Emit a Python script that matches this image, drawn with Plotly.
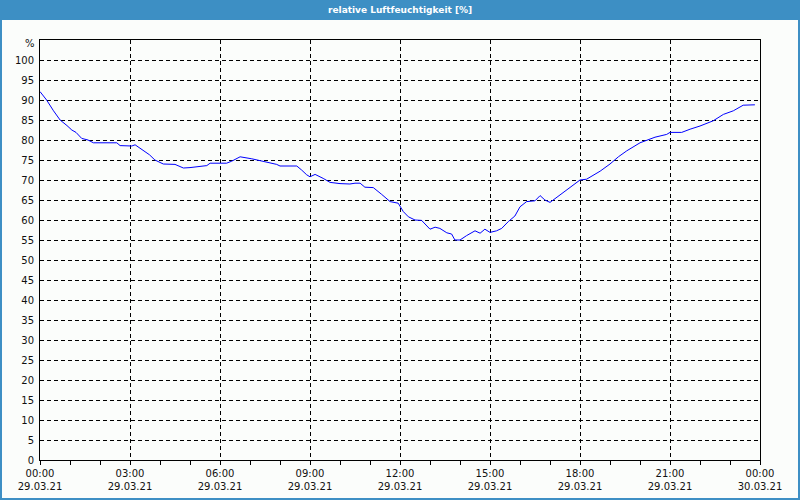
import plotly.graph_objects as go
from datetime import datetime, timedelta

# hours after 29.03.21 00:00 and relative humidity [%]
hours = [0.0, 0.22, 0.45, 0.67, 0.9, 1.06, 1.2, 1.39, 1.6, 1.78, 2.2, 2.56, 2.67, 2.85, 3.06, 3.17,
         3.44, 3.65, 3.83, 4.11, 4.5, 4.78, 5.0, 5.22, 5.56, 5.67, 6.0, 6.22, 6.39, 6.67, 7.06,
         7.44, 7.89, 8.0, 8.3, 8.56, 8.72, 8.89, 9.0, 9.17, 9.44, 9.67, 10.0, 10.33, 10.5,
         10.67, 10.83, 11.11, 11.39, 11.67, 11.94, 12.11, 12.28, 12.5, 12.72, 13.0, 13.17,
         13.33, 13.56, 13.72, 13.83, 14.0, 14.22, 14.5, 14.67, 14.83, 15.0, 15.22, 15.39,
         15.61, 15.83, 16.0, 16.22, 16.5, 16.67, 16.83, 17.0, 17.28, 17.61, 18.0, 18.22,
         18.67, 19.0, 19.28, 19.56, 20.0, 20.5, 20.89, 21.0, 21.39, 21.67, 22.0, 22.44,
         22.78, 23.11, 23.44, 23.83]
humidity = [92.1, 90.0, 87.3, 85.0, 83.6, 82.5, 81.9, 80.4, 80.0, 79.3, 79.3, 79.3, 78.6, 78.5, 78.5, 78.8,
            77.3, 76.3, 75.0, 74.0, 73.9, 73.0, 73.1, 73.3, 73.6, 74.2, 74.2, 74.2, 74.7, 75.8, 75.3,
            74.6, 73.9, 73.5, 73.5, 73.5, 72.5, 71.3, 70.8, 71.4, 70.4, 69.4, 69.1, 69.0, 69.2,
            69.2, 68.2, 68.1, 66.4, 64.6, 64.2, 62.1, 60.8, 60.0, 59.9, 57.7, 58.2,
            57.9, 56.8, 56.5, 55.0, 55.0, 56.1, 57.3, 56.7, 57.7, 56.9, 57.3, 57.9,
            59.6, 61.0, 63.3, 64.6, 64.8, 66.1, 65.0, 64.4, 66.0, 67.9, 70.0, 70.2,
            72.2, 74.0, 75.8, 77.3, 79.3, 80.7, 81.4, 81.9, 81.9, 82.7, 83.5, 84.8,
            86.4, 87.3, 88.7, 88.8]

y_ticks = list(range(0, 101, 5))

start = datetime(2021, 3, 29)
times = [start + timedelta(hours=h) for h in hours]

tick_vals = [start + timedelta(hours=3 * i) for i in range(9)]
time_text = [f"{t:%H:%M}" for t in tick_vals]
date_text = [f"{t:%d.%m.%y}" for t in tick_vals]

FONT = "DejaVu Sans"
BLUE = "#3d8fc4"
BG = "#fbfdfb"
TXT = "#111"

fig = go.Figure()
fig.add_trace(go.Scatter(x=times, y=humidity, mode="lines",
                         line=dict(color="#0000ff", width=1), hoverinfo="skip"))
# invisible helper trace for the second (date) label row
fig.add_trace(go.Scatter(x=[times[0]], y=[humidity[0]], xaxis="x2", mode="lines",
                         line=dict(width=0), hoverinfo="skip", showlegend=False))

fig.update_layout(
    width=800, height=500,
    margin=dict(l=40, r=40, t=40, b=40, autoexpand=False),
    paper_bgcolor=BLUE,
    plot_bgcolor=BG,
    showlegend=False,
    font=dict(family=FONT, size=10, color=TXT),
)

# white content area inside blue frame
fig.add_shape(type="rect", xref="paper", yref="paper",
              x0=-38 / 720, x1=1 + 38 / 720, y0=-38 / 420, y1=1 + 20 / 420,
              fillcolor=BG, line=dict(width=0), layer="below")

fig.add_annotation(text="<b>relative Luftfeuchtigkeit [%]</b>", xref="paper", yref="paper",
                   x=0.5, y=1 + 30 / 420, yanchor="middle", showarrow=False,
                   font=dict(family=FONT, size=9, color="white"))
fig.add_annotation(text="%", xref="paper", yref="paper", x=-3 / 720, y=1 - 4 / 420,
                   xanchor="right", yanchor="middle", showarrow=False,
                   font=dict(family=FONT, size=10, color=TXT))

xr = [start, start + timedelta(hours=24)]
fig.update_layout(
    xaxis=dict(
        type="date", range=xr, automargin=False,
        tickvals=tick_vals, ticktext=time_text, ticklabelstandoff=0,
        showline=True, linecolor="black", linewidth=1, mirror=True,
        ticks="outside", ticklen=4, tickcolor="black",
        showgrid=True, gridcolor="black", griddash="4px,3px", gridwidth=1,
        minor=dict(dtick=3600000, ticks="outside", ticklen=4, tickcolor="black", showgrid=False),
        zeroline=False,
    ),
    xaxis2=dict(
        type="date", range=xr, overlaying="x", side="bottom", anchor="y", automargin=False,
        tickvals=tick_vals, ticktext=date_text, ticklabelstandoff=19,
        showline=False, ticks="", showgrid=False, zeroline=False,
    ),
    yaxis=dict(
        range=[0, 105], tickvals=y_ticks, automargin=False,
        showline=True, linecolor="black", linewidth=1, mirror=True,
        ticks="", ticklabelstandoff=3,
        showgrid=True, gridcolor="black", griddash="4px,3px", gridwidth=1,
        zeroline=False,
    ),
)

fig.write_html("out.html")
